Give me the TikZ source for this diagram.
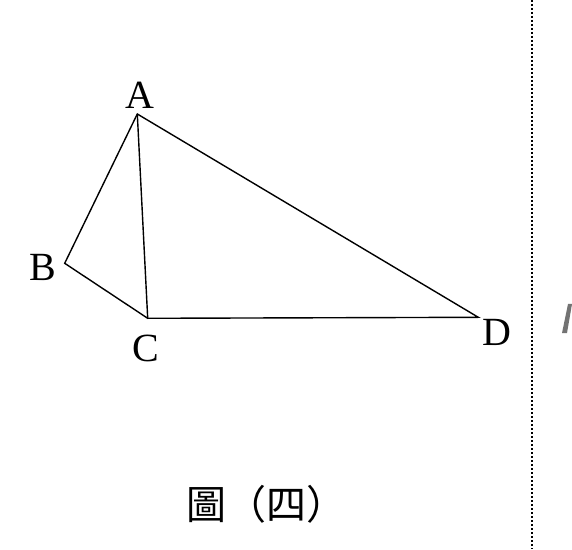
\documentclass[tikz,border=0pt]{standalone}
\usepackage{fontspec}
\setmainfont{Liberation Serif}
\newfontfamily\cjk{Noto Sans CJK TC}
\usepackage{tikz}
\usetikzlibrary{positioning}
\tikzstyle{vertex} = [coordinate]
\tikzstyle{label} = [inner sep=0pt, font=\fontsize{40}{48}\selectfont]
\tikzstyle{side} = [line width=1.4pt, line join=miter]
\tikzstyle{fold} = [line width=2.2pt, dash pattern=on 2pt off 2pt]

\begin{document}
\begin{tikzpicture}[x=1pt, y=1pt]
\useasboundingbox (0,0) rectangle (572,549);
\node (A) [vertex] at (137.3,435) {};
\node (B) [vertex] at (64.7,285.7) {};
\node (C) [vertex] at (147.7,230.7) {};
\node (D) [vertex] at (478.3,231.7) {};

\node (labA) [label] at (140,454) {A};
\node (labB) [label] at (43,282) {B};
\node (labC) [label] at (146,201) {C};
\node (labD) [label] at (497,217) {D};

\draw [side] (A) -- (B) -- (C) -- (D) -- cycle;
\draw [side] (A) -- (C);

\node (caption) [label, font=\cjk\fontsize{40}{48}\selectfont] at (266,45) {圖（四）};

\coordinate (foldtop) at (532,549);
\coordinate (foldbot) at (532,0);
\draw [fold] (foldtop) -- (foldbot);

\fill [black!55] (562,216) -- (567,216) -- (572,245) -- (568,245) -- cycle;
\end{tikzpicture}
\end{document}
